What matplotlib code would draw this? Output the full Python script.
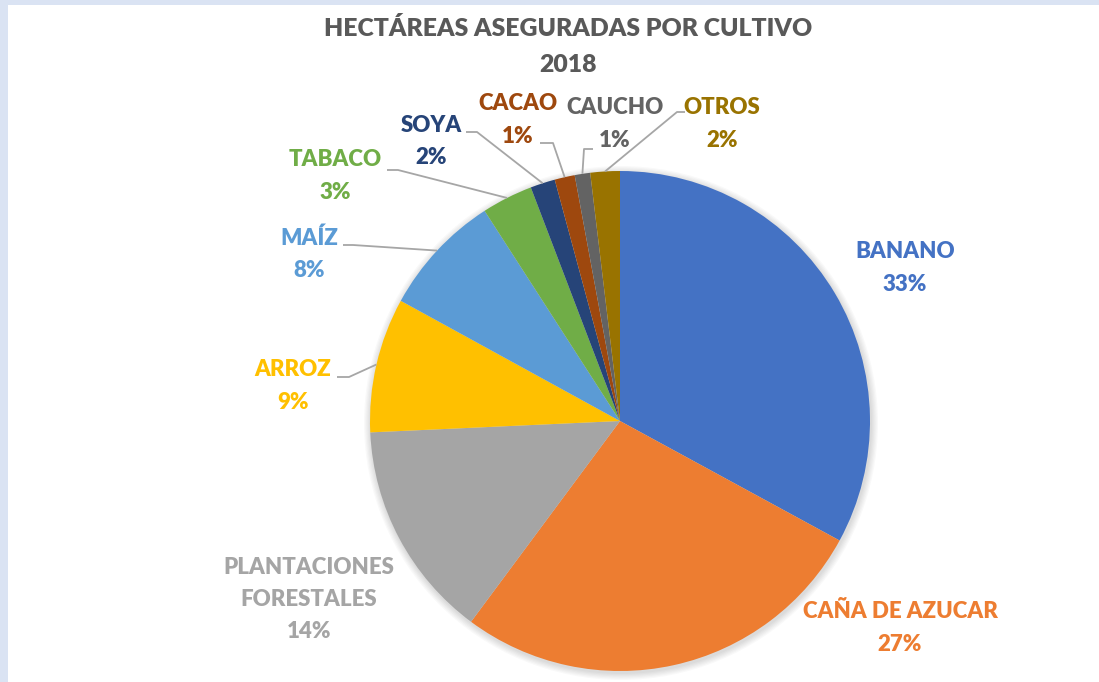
"""Hectáreas aseguradas por cultivo 2018 - pie chart."""

import numpy as np
import matplotlib
matplotlib.use("Agg")
import matplotlib.pyplot as plt
from matplotlib.patches import Circle, Rectangle

crops = ["BANANO", "CAÑA DE AZUCAR", "PLANTACIONES\nFORESTALES", "ARROZ", "MAÍZ",
         "TABACO", "SOYA", "CACAO", "CAUCHO", "OTROS"]
shares = [32.9, 27.2, 14.1, 8.7, 7.9, 3.3, 1.6, 1.3, 1.0, 1.9]
pct_labels = ["33%", "27%", "14%", "9%", "8%", "3%", "2%", "1%", "1%", "2%"]
colors = ["#4472C4", "#ED7D31", "#A5A5A5", "#FFC000", "#5B9BD5",
          "#70AD47", "#264478", "#9E480E", "#636363", "#997300"]

W, H = 1099, 682
fig = plt.figure(figsize=(W / 100, H / 100), dpi=100)
fig.patch.set_facecolor("#DAE3F3")
ax = fig.add_axes([0, 0, 1, 1])
ax.add_patch(Rectangle((8, 0), W - 8, H - 5, facecolor="white", edgecolor="none", zorder=0))

cx, cy, r = 620, H - 421, 250

# soft shadow around the pie
for i in range(6):
    ax.add_patch(Circle((cx + 1, cy - 2), r + 1 + i * 1.2, facecolor="black",
                        edgecolor="none", alpha=0.025, zorder=1))

wedges, _ = ax.pie(shares, colors=colors, startangle=90, counterclock=False,
                   center=(cx, cy), radius=r, frame=True,
                   wedgeprops=dict(linewidth=0, zorder=2))
ax.set_xlim(0, W)
ax.set_ylim(0, H)
ax.set_aspect("equal")
ax.axis("off")

font = "Lato"
weight = "heavy"
fs = 16

# text positions in pixel coords (top-origin), elbow points for leader lines
label_pos = [(905, 252), (900, 612), (309, 567), (293, 370), (309, 238),
             (335, 160), (431, 125), (518, 104), (615, 108), (722, 108)]
leaders = {
    3: [(337, 377), (349, 377)],
    4: [(343, 245), (353, 245)],
    5: [(387, 170), (398, 170)],
    6: [(466, 132), (477, 132)],
    7: [(540, 143), (553, 143)],
    8: [(593, 149), (584, 149)],
    9: [(685, 112), (677, 112)],
}

for i, (name, pct, col) in enumerate(zip(crops, pct_labels, colors)):
    x, y = label_pos[i]
    lines = name.split("\n") + [pct]
    for k, t in enumerate(lines):
        ax.text(x, H - (y + k * 32.5), t, color=col, fontsize=fs, fontweight=weight,
                family=font, ha="center", va="center", zorder=5)
    if i in leaders:
        w = wedges[i]
        mid = np.deg2rad((w.theta1 + w.theta2) / 2)
        ex, ey = cx + r * np.cos(mid), cy + r * np.sin(mid)
        pts = [(px, H - py) for px, py in leaders[i]] + [(ex, ey)]
        xs, ys = zip(*pts)
        ax.plot(xs, ys, color="#A6A6A6", lw=1.3, zorder=4, solid_capstyle="butt")

ax.text(568, H - 28, "HECTÁREAS ASEGURADAS POR CULTIVO", color="#595959", fontsize=17.8,
        fontweight=weight, family=font, ha="center", va="center")
ax.text(568, H - 65, "2018", color="#595959", fontsize=17.8,
        fontweight=weight, family=font, ha="center", va="center")

fig.savefig("out.png", dpi=100, facecolor=fig.get_facecolor())
